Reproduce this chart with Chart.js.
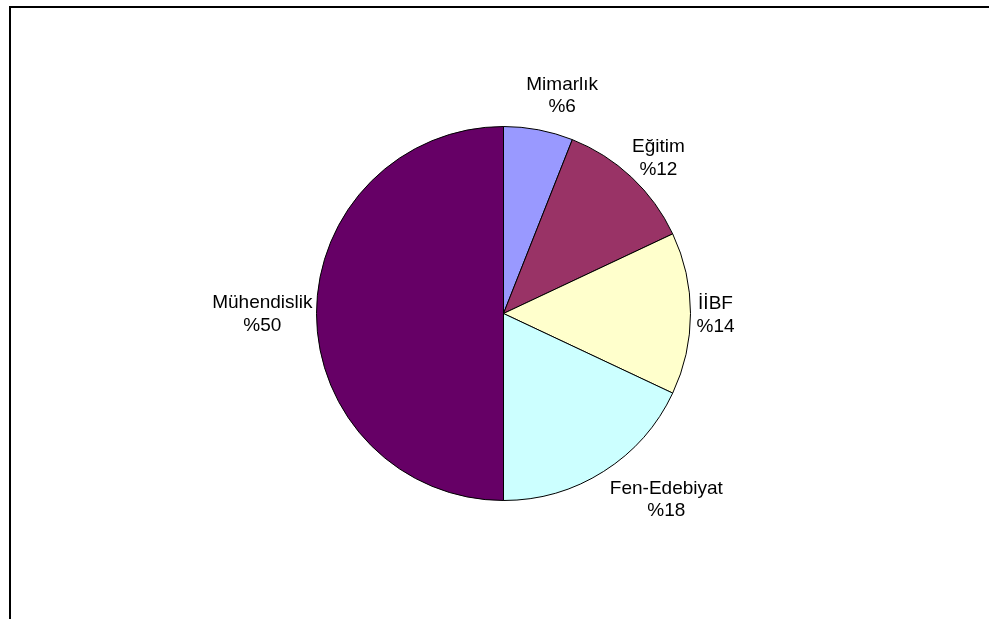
<!DOCTYPE html>
<html lang="tr">
<head>
<meta charset="utf-8">
<title>Fakülte dağılımı</title>
<script src="https://cdn.jsdelivr.net/npm/chart.js@4/dist/chart.umd.min.js"></script>
<style>
  html, body { margin: 0; padding: 0; background: #fff; overflow: hidden; }
  #wrap { position: relative; width: 989px; height: 619px; }
  #frame {
    position: absolute; left: 9px; top: 6px; width: 1000px; height: 700px;
    border-top: 2px solid #000; border-left: 2px solid #000;
  }
  #chart { position: absolute; left: 0; top: 0; }
</style>
</head>
<body>
<div id="wrap">
  <div id="frame"></div>
  <canvas id="chart" width="989" height="619"></canvas>
</div>
<script>
const faculties = ['Mimarlık', 'Eğitim', 'İİBF', 'Fen-Edebiyat', 'Mühendislik']
const shares = [6, 12, 14, 18, 50]
const sliceColors = ['#9999FF', '#993366', '#FFFFCC', '#CCFFFF', '#660066']

const labelFont = '19px "Liberation Sans", Arial, sans-serif'
const lineHeight = 22.5
// small hand adjustments to the outside label placement, in px
const labelNudge = [[15, -2], [2, 5], [-4, 2], [27, 1], [6, 1]]

// category name and percentage written outside each slice
const outsideLabels = {
  id: 'outsideLabels',
  afterDatasetsDraw(chart) {
    const ctx = chart.ctx
    const meta = chart.getDatasetMeta(0)
    ctx.save()
    ctx.font = labelFont
    ctx.fillStyle = '#000'
    ctx.textAlign = 'center'
    ctx.textBaseline = 'middle'
    meta.data.forEach((arc, i) => {
      const {x, y, startAngle, endAngle, outerRadius} = arc.getProps(['x', 'y', 'startAngle', 'endAngle', 'outerRadius'], true)
      const mid = (startAngle + endAngle) / 2
      const lines = [chart.data.labels[i], '%' + chart.data.datasets[0].data[i]]
      const w = Math.max(...lines.map(t => ctx.measureText(t).width))
      const h = lines.length * lineHeight
      const d = outerRadius + 10
      const [nx, ny] = labelNudge[i] || [0, 0]
      const cx = x + Math.cos(mid) * d + Math.cos(mid) * w / 2 + nx
      const cy = y + Math.sin(mid) * d + Math.sin(mid) * h / 2 + ny
      lines.forEach((t, k) => {
        ctx.fillText(t, cx, cy + (k - (lines.length - 1) / 2) * lineHeight)
      })
    })
    ctx.restore()
  }
}

new Chart(document.getElementById('chart'), {
  type: 'pie',
  data: {
    labels: faculties,
    datasets: [{
      data: shares,
      backgroundColor: sliceColors,
      borderColor: '#000',
      borderWidth: 1
    }]
  },
  options: {
    responsive: false,
    animation: false,
    radius: 187,
    layout: { padding: { left: 316, right: 298, top: 126, bottom: 118 } },
    plugins: {
      legend: { display: false },
      tooltip: { enabled: false }
    }
  },
  plugins: [outsideLabels]
})
</script>
</body>
</html>
